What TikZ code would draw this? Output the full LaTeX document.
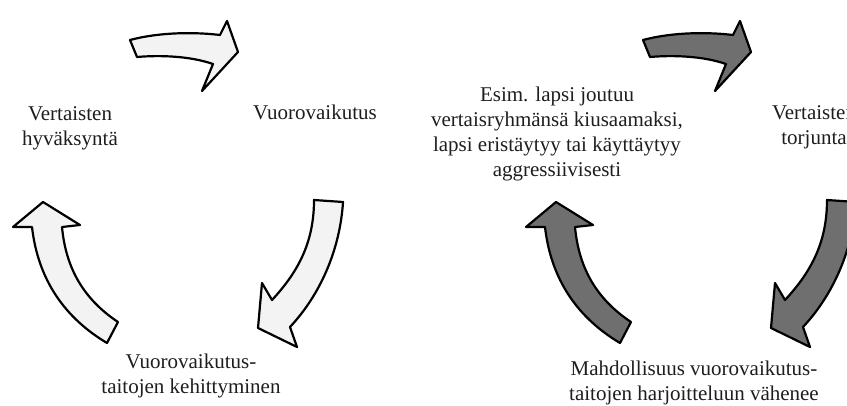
\documentclass[tikz,border=0pt]{standalone}
\usepackage{fontspec}
\setmainfont{Liberation Serif}
\definecolor{CycLight}{HTML}{F3F3F3}
\definecolor{CycDark} {HTML}{6F6F6F}
\definecolor{CycInk}  {HTML}{1E1E1E}

% the three curved block arrows of one cycle
\newcommand{\cyclearrows}[1]{%
  % top arrow
  \draw[#1] (130,40) .. controls (160,32) and (195,32) .. (220,35) -- (227,21) -- (238,52)
    -- (202,91) -- (213,64) .. controls (190,56) and (160,55) .. (137,57) -- cycle;
  % right arrow
  \draw[#1] (314,200) -- (343,202) .. controls (340,250) and (320,295) .. (290,327)
    -- (297,347) -- (258,328) -- (262,283) -- (272,300) .. controls (300,270) and (314,240) .. (314,200) -- cycle;
  % left arrow
  \draw[#1] (43,202) -- (80,225) -- (62,227) .. controls (66,270) and (85,300) .. (118,322)
    -- (107,343) .. controls (65,318) and (38,280) .. (32,227) -- (13,227) -- cycle;
}

\begin{document}
\begin{tikzpicture}[x=1pt,y=-1pt,
    lbl/.style={font=\fontsize{21}{25}\selectfont,text=CycInk,align=center,inner sep=0pt},
    arrowlight/.style={draw=black,fill=CycLight,line width=2.2pt,line join=round},
    arrowdark/.style={draw=black,fill=CycDark,line width=2.2pt,line join=round}]
    \clip (0,0) rectangle (847,406);
    % Positive cycle
    \cyclearrows{arrowlight}
    \node[lbl] (approval)    at (70,128)  {Vertaisten\\hyväksyntä};
    \node[lbl,anchor=base] (interaction) at (315,120) {Vuorovaikutus};
    \node[lbl] (skills)      at (191,376) {Vuorovaikutus-\\taitojen kehittyminen};
    % Negative cycle
    \begin{scope}[xshift=513pt]
      \cyclearrows{arrowdark}
    \end{scope}
    \node[lbl] (example)   at (557,134) {Esim. lapsi joutuu\\vertaisryhmänsä kiusaamaksi,\\lapsi eristäytyy tai käyttäytyy\\aggressiivisesti};
    \node[lbl] (rejection) at (814,127) {Vertaisten\\torjunta};
    \node[lbl] (practice)  at (694,383) {Mahdollisuus vuorovaikutus-\\taitojen harjoitteluun vähenee};
\end{tikzpicture}
\end{document}
